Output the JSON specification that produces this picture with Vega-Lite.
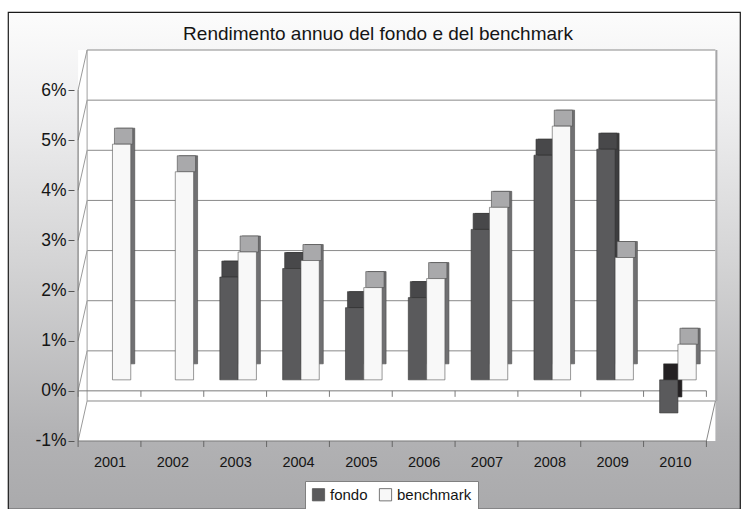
{
  "$schema": "https://vega.github.io/schema/vega-lite/v6.json",
  "width": 732,
  "height": 497,
  "autosize": {"type": "none"},
  "padding": {"left": 8, "top": 12, "right": 7, "bottom": 0},
  "background": "#ffffff",
  "title": {
    "text": "Rendimento annuo del fondo e del benchmark",
    "font": "Liberation Sans, Arial, sans-serif",
    "fontSize": 19,
    "fontWeight": "normal",
    "color": "#151515",
    "anchor": "middle",
    "frame": "group",
    "baseline": "middle",
    "offset": 0,
    "dy": 41,
    "dx": 4
  },
  "config": {
    "view": {
      "stroke": "#1a1a1a",
      "strokeWidth": 1.2,
      "fill": {
        "gradient": "linear",
        "x1": 0, "y1": 0, "x2": 0, "y2": 1,
        "stops": [
          {"offset": 0, "color": "#fcfcfc"},
          {"offset": 0.2, "color": "#eeeeef"},
          {"offset": 0.5, "color": "#d4d4d5"},
          {"offset": 0.85, "color": "#b2b2b4"},
          {"offset": 1, "color": "#aaaaac"}
        ]
      }
    },
    "font": "Liberation Sans, Arial, sans-serif",
    "axis": {"labelFont": "Liberation Sans, Arial, sans-serif", "labelColor": "#151515"},
    "legend": {"labelFont": "Liberation Sans, Arial, sans-serif"}
  },
  "data": {
    "values": [
      {"year": 2001, "series": "benchmark", "value": 4.7},
      {"year": 2002, "series": "benchmark", "value": 4.15},
      {"year": 2003, "series": "fondo", "value": 2.05},
      {"year": 2003, "series": "benchmark", "value": 2.55},
      {"year": 2004, "series": "fondo", "value": 2.22},
      {"year": 2004, "series": "benchmark", "value": 2.38},
      {"year": 2005, "series": "fondo", "value": 1.44},
      {"year": 2005, "series": "benchmark", "value": 1.84},
      {"year": 2006, "series": "fondo", "value": 1.64},
      {"year": 2006, "series": "benchmark", "value": 2.02},
      {"year": 2007, "series": "fondo", "value": 3.0},
      {"year": 2007, "series": "benchmark", "value": 3.44},
      {"year": 2008, "series": "fondo", "value": 4.48},
      {"year": 2008, "series": "benchmark", "value": 5.06},
      {"year": 2009, "series": "fondo", "value": 4.6},
      {"year": 2009, "series": "benchmark", "value": 2.44},
      {"year": 2010, "series": "fondo", "value": -0.66},
      {"year": 2010, "series": "benchmark", "value": 0.71}
    ]
  },
  "layer": [
    {
      "data": {"values": [{"k": 1}]},
      "mark": {"type": "rect", "color": "#ffffff", "yOffset": -40, "x2Offset": 9},
      "encoding": {
        "x": {"datum": 2000.5, "type": "quantitative", "scale": {"domain": [1999.4639, 2010.9553], "nice": false, "zero": false}, "axis": {"orient": "bottom", "offset": -68, "values": [2001, 2002, 2003, 2004, 2005, 2006, 2007, 2008, 2009, 2010], "format": "d", "ticks": false, "tickSize": 0, "domain": false, "grid": false, "labelPadding": 14, "labelFontSize": 14.5, "title": null}},
        "x2": {"datum": 2010.5},
        "y": {"datum": 6, "type": "quantitative", "scale": {"domain": [-2.3562, 7.5556], "nice": false, "zero": false}, "axis": {"orient": "left", "offset": -66, "values": [-1, 0, 1, 2, 3, 4, 5, 6], "labelExpr": "datum.value + '%'", "domain": false, "grid": false, "ticks": true, "tickSize": 6, "tickColor": "#555555", "labelPadding": 2, "labelFontSize": 17.5, "title": null}},
        "y2": {"datum": -1}
      }
    },
    {
      "data": {"values": [{"g": -1}, {"g": 0}, {"g": 1}, {"g": 2}, {"g": 3}, {"g": 4}, {"g": 5}, {"g": 6}]},
      "mark": {"type": "rule", "color": "#8a8a8a", "strokeWidth": 1, "xOffset": 9, "x2Offset": 9, "yOffset": -40},
      "encoding": {
        "x": {"datum": 2000.5, "type": "quantitative"},
        "x2": {"datum": 2010.5},
        "y": {"field": "g", "type": "quantitative"}
      }
    },
    {
      "data": {"values": [{"g": -1}, {"g": 0}, {"g": 1}, {"g": 2}, {"g": 3}, {"g": 4}, {"g": 5}, {"g": 6}]},
      "mark": {"type": "rule", "color": "#9a9a9a", "strokeWidth": 1, "x2Offset": 9, "y2Offset": -40},
      "encoding": {
        "x": {"datum": 2000.5, "type": "quantitative"},
        "x2": {"datum": 2000.5},
        "y": {"field": "g", "type": "quantitative"},
        "y2": {"field": "g"}
      }
    },
    {
      "data": {"values": [{"k": 1}]},
      "mark": {"type": "rule", "color": "#a0a0a0", "strokeWidth": 1, "xOffset": 9, "yOffset": -40, "y2Offset": -40},
      "encoding": {
        "x": {"datum": 2000.5, "type": "quantitative"},
        "y": {"datum": -1, "type": "quantitative"},
        "y2": {"datum": 6}
      }
    },
    {
      "data": {"values": [{"k": 1}]},
      "mark": {"type": "rule", "color": "#a6a6a8", "strokeWidth": 2, "xOffset": 10, "yOffset": -40, "y2Offset": -40},
      "encoding": {
        "x": {"datum": 2010.5, "type": "quantitative"},
        "y": {"datum": -1, "type": "quantitative"},
        "y2": {"datum": 6}
      }
    },
    {
      "data": {"values": [{"k": 1}]},
      "mark": {"type": "rule", "color": "#8a8a8a", "strokeWidth": 1, "x2Offset": 9, "y2Offset": -40},
      "encoding": {
        "x": {"datum": 2010.5, "type": "quantitative"},
        "x2": {"datum": 2010.5},
        "y": {"datum": -1, "type": "quantitative"},
        "y2": {"datum": -1}
      }
    },
    {
      "data": {"values": [{"k": 1}]},
      "mark": {"type": "rule", "color": "#6a6a6a", "strokeWidth": 1},
      "encoding": {
        "x": {"datum": 2000.5, "type": "quantitative"},
        "y": {"datum": -1, "type": "quantitative"},
        "y2": {"datum": 6}
      }
    },
    {
      "data": {"values": [{"h": -1}, {"h": 0}]},
      "mark": {"type": "rule", "color": "#7a7a7a", "strokeWidth": 1},
      "encoding": {
        "x": {"datum": 2000.5, "type": "quantitative"},
        "x2": {"datum": 2010.5},
        "y": {"field": "h", "type": "quantitative"}
      }
    },
    {
      "data": {"values": [{"b": 2000.5}, {"b": 2001.5}, {"b": 2002.5}, {"b": 2003.5}, {"b": 2004.5}, {"b": 2005.5}, {"b": 2006.5}, {"b": 2007.5}, {"b": 2008.5}, {"b": 2009.5}, {"b": 2010.5}]},
      "mark": {"type": "rule", "color": "#666666", "strokeWidth": 1, "y2Offset": 6},
      "encoding": {
        "x": {"field": "b", "type": "quantitative"},
        "y": {"datum": -1, "type": "quantitative"},
        "y2": {"datum": -1}
      }
    },
    {
      "data": {"values": [{"b": 2000.5}, {"b": 2001.5}, {"b": 2002.5}, {"b": 2003.5}, {"b": 2004.5}, {"b": 2005.5}, {"b": 2006.5}, {"b": 2007.5}, {"b": 2008.5}, {"b": 2009.5}, {"b": 2010.5}]},
      "mark": {"type": "rule", "color": "#7a7a7a", "strokeWidth": 1, "y2Offset": 6},
      "encoding": {
        "x": {"field": "b", "type": "quantitative"},
        "y": {"datum": 0, "type": "quantitative"},
        "y2": {"datum": 0}
      }
    },
    {
      "transform": [{"filter": "datum.series == 'fondo'"}],
      "mark": {"type": "bar", "width": 18.3, "xOffset": -2.2, "yOffset": -27, "y2Offset": -27, "stroke": "#2e2e2e", "strokeWidth": 0.6},
      "encoding": {
        "x": {"field": "year", "type": "quantitative"},
        "y": {"field": "value", "type": "quantitative"},
        "y2": {"datum": 0},
        "fill": {"condition": {"test": "datum.value < 0", "value": "#242123"}, "value": "#3d3d3f"}
      }
    },
    {
      "transform": [{"filter": "datum.series == 'benchmark'"}],
      "mark": {"type": "bar", "width": 18.3, "xOffset": 16.1, "yOffset": -27, "y2Offset": -27, "fill": "#707072", "stroke": "#4a4a4a", "strokeWidth": 0.6},
      "encoding": {
        "x": {"field": "year", "type": "quantitative"},
        "y": {"field": "value", "type": "quantitative"},
        "y2": {"datum": 0}
      }
    },
    {
      "transform": [{"filter": "datum.series == 'fondo' && datum.value > 0"}],
      "mark": {"type": "bar", "width": 18.3, "xOffset": -4.2, "yOffset": -11, "y2Offset": -27, "fill": "#48484a", "stroke": "#333333", "strokeWidth": 0.6},
      "encoding": {
        "x": {"field": "year", "type": "quantitative"},
        "y": {"field": "value", "type": "quantitative"},
        "y2": {"field": "value"}
      }
    },
    {
      "transform": [{"filter": "datum.series == 'benchmark'"}],
      "mark": {"type": "bar", "width": 18.3, "xOffset": 14.1, "yOffset": -11, "y2Offset": -27, "fill": "#a9a9ab", "stroke": "#4a4a4a", "strokeWidth": 0.6},
      "encoding": {
        "x": {"field": "year", "type": "quantitative"},
        "y": {"field": "value", "type": "quantitative"},
        "y2": {"field": "value"}
      }
    },
    {
      "transform": [{"filter": "datum.series == 'fondo'"}],
      "mark": {"type": "bar", "width": 18.3, "xOffset": -6.2, "yOffset": -11, "y2Offset": -11, "stroke": "#333333", "strokeWidth": 0.6, "opacity": 1},
      "encoding": {
        "x": {"field": "year", "type": "quantitative"},
        "y": {"field": "value", "type": "quantitative"},
        "y2": {"datum": 0},
        "color": {"field": "series", "type": "nominal", "scale": {"domain": ["fondo", "benchmark"], "range": ["#5a5a5c", "#f8f8f8"]}, "legend": {"orient": "none", "legendX": 297, "legendY": 469, "direction": "horizontal", "title": null, "fillColor": "#ffffff", "strokeColor": "#808080", "padding": 6, "symbolType": "square", "symbolSize": 150, "symbolStrokeColor": "#333333", "symbolStrokeWidth": 0.8, "symbolOpacity": 1, "labelFontSize": 15, "labelColor": "#151515", "columnPadding": 9, "labelOffset": 4}}
      }
    },
    {
      "transform": [{"filter": "datum.series == 'benchmark'"}],
      "mark": {"type": "bar", "width": 18.3, "xOffset": 12.1, "yOffset": -11, "y2Offset": -11, "stroke": "#555555", "strokeWidth": 0.6, "opacity": 1},
      "encoding": {
        "x": {"field": "year", "type": "quantitative"},
        "y": {"field": "value", "type": "quantitative"},
        "y2": {"datum": 0},
        "color": {"field": "series", "type": "nominal"}
      }
    }
  ]
}
